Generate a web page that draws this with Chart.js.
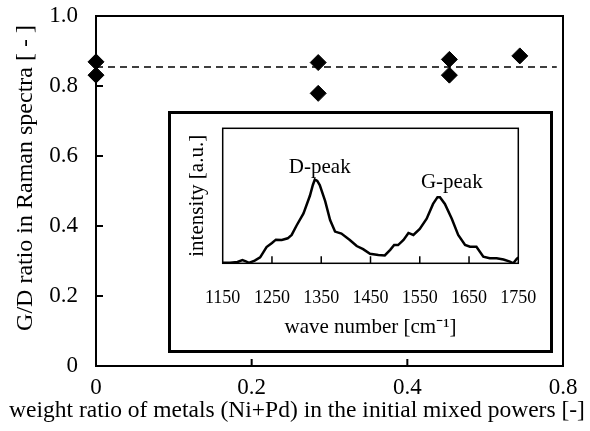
<!DOCTYPE html>
<html>
<head>
<meta charset="utf-8">
<script src="https://cdn.jsdelivr.net/npm/chart.js@4.4.0/dist/chart.umd.min.js"></script>
<style>
  html, body { margin: 0; padding: 0; background: #fff; }
  #wrap { position: relative; width: 590px; height: 431px; }
  #inset { position: absolute; left: 168px; top: 111px; width: 379px; height: 236px;
           border: 3px solid #000; background: #fff; }
  canvas { display: block; }
</style>
</head>
<body>
<div id="wrap">
  <canvas id="mainChart" width="590" height="431"></canvas>
  <div id="inset"><canvas id="insetChart" width="379" height="236"></canvas></div>
</div>
<script>
// main plot: G/D ratio vs metal weight ratio
const metalRatio = [0, 0, 0.2855, 0.2855, 0.454, 0.454, 0.5445];
const gdRatio = [0.869, 0.831, 0.867, 0.779, 0.876, 0.831, 0.886];
const meanX = [0, 0.592];
const meanY = [0.854, 0.854];
const xTickLabels = ['0', '0.2', '0.4', '0.8'];
const yTickLabels = ['0', '0.2', '0.4', '0.6', '0.8', '1.0'];
const xTitle = 'weight ratio of metals (Ni+Pd) in the initial mixed powers [-]';
const yTitle = 'G/D ratio in Raman spectra [ - ]';

// inset: Raman spectrum
const waveNumber = [1150, 1165, 1180, 1190, 1197, 1203, 1215, 1226, 1239, 1250, 1258, 1270, 1282, 1290,
  1300, 1314, 1327, 1333, 1337, 1342, 1347, 1358, 1368, 1378, 1391, 1408, 1422, 1435, 1449, 1466,
  1479, 1490, 1498, 1506, 1517, 1527, 1537, 1550, 1564, 1577, 1586, 1591, 1601, 1615, 1628, 1642,
  1652, 1665, 1679, 1692, 1706, 1720, 1733, 1740, 1746, 1750];
const intensity = [0.5, 0.5, 1, 2.4, 1.5, 0.3, 2, 4.4, 12, 15, 17.5, 17.3, 18.5, 21,
  28, 37, 50, 58, 62, 61, 58, 46, 32, 23.5, 22, 17.3, 12.8, 10.5, 7, 6.2,
  5.8, 10, 13.6, 13.5, 17.3, 22.5, 21, 25.5, 33, 44, 49, 49, 44, 33, 21, 13.6,
  12.3, 12.3, 4.9, 3.7, 3.7, 2.8, 1.2, 0, 3, 4.4];
const waveTicks = ['1150', '1250', '1350', '1450', '1550', '1650', '1750'];
const peakNames = ['D-peak', 'G-peak'];
const peakNameX = [1347, 1615];
const peakNameY = [71, 60];

const serif = '"Liberation Serif", "Times New Roman", serif';

// box around the plot area plus inward tick marks
function frameWithTicks(lineWidth, tickLen) {
  return {
    id: 'frameWithTicks',
    beforeDatasetsDraw(chart) {
      const { ctx, chartArea: a, scales } = chart;
      ctx.save();
      ctx.strokeStyle = '#000';
      ctx.lineWidth = lineWidth;
      ctx.strokeRect(a.left, a.top, a.right - a.left, a.bottom - a.top);
      ctx.beginPath();
      const xs = scales.x.ticks, ys = scales.y.ticks;
      xs.forEach((t, i) => {
        if (i === 0 || i === xs.length - 1) return;
        const px = scales.x.getPixelForValue(t.value);
        ctx.moveTo(px, a.bottom);
        ctx.lineTo(px, a.bottom - tickLen);
      });
      if (scales.y.options.ticks.display) {
        ys.forEach((t, i) => {
          if (i === 0 || i === ys.length - 1) return;
          const py = scales.y.getPixelForValue(t.value);
          ctx.moveTo(a.left, py);
          ctx.lineTo(a.left + tickLen, py);
        });
      }
      ctx.stroke();
      ctx.restore();
    }
  };
}

// axis titles of the main plot (drawn here so they are not squeezed to the axis length)
const mainTitles = {
  id: 'mainTitles',
  afterDraw(chart) {
    const { ctx } = chart;
    ctx.save();
    ctx.fillStyle = '#000';
    ctx.textAlign = 'center';
    ctx.textBaseline = 'middle';
    ctx.font = '23.5px ' + serif;
    ctx.fillText(xTitle, 297, 411);
    ctx.translate(26, 178);
    ctx.rotate(-Math.PI / 2);
    ctx.font = '24px ' + serif;
    ctx.fillText(yTitle, 0, 0);
    ctx.restore();
  }
};

new Chart(document.getElementById('mainChart'), {
  type: 'scatter',
  data: {
    datasets: [
      {
        data: meanX.map((x, i) => ({ x: x, y: meanY[i] })),
        showLine: true,
        borderColor: '#000',
        borderWidth: 1.5,
        borderDash: [7, 5],
        pointRadius: 0,
        clip: false
      },
      {
        data: metalRatio.map((x, i) => ({ x: x, y: gdRatio[i] })),
        pointStyle: 'rectRot',
        pointRadius: 8,
        backgroundColor: '#000',
        borderColor: '#000',
        borderWidth: 1,
        clip: false
      }
    ]
  },
  options: {
    responsive: false,
    animation: false,
    layout: { padding: { left: 0, right: 27, top: 16, bottom: 0 } },
    plugins: { legend: { display: false }, tooltip: { enabled: false } },
    scales: {
      x: {
        type: 'linear', min: 0, max: 0.6,
        grid: { display: false }, border: { display: false },
        ticks: { stepSize: 0.2, color: '#000', padding: 0, maxRotation: 0,
          font: { family: serif, size: 23 },
          callback: (v, i) => xTickLabels[i] },
        afterFit: s => { s.height = 65; s.paddingLeft = 0; s.paddingRight = 0; }
      },
      y: {
        type: 'linear', min: 0, max: 1,
        grid: { display: false }, border: { display: false },
        ticks: { stepSize: 0.2, color: '#000', padding: 10,
          font: { family: serif, size: 23 },
          callback: (v, i) => yTickLabels[i] },
        afterFit: s => { s.width = 96; s.paddingTop = 0; s.paddingBottom = 0; }
      }
    }
  },
  plugins: [frameWithTicks(2, 7), mainTitles]
});

const peakText = {
  id: 'peakText',
  afterDatasetsDraw(chart) {
    const { ctx, scales } = chart;
    ctx.save();
    ctx.fillStyle = '#000';
    ctx.font = '21px ' + serif;
    ctx.textAlign = 'center';
    ctx.textBaseline = 'middle';
    peakNames.forEach((name, i) => {
      ctx.fillText(name, scales.x.getPixelForValue(peakNameX[i]), scales.y.getPixelForValue(peakNameY[i]));
    });
    ctx.restore();
  }
};

new Chart(document.getElementById('insetChart'), {
  type: 'line',
  data: {
    datasets: [{
      data: waveNumber.map((x, i) => ({ x: x, y: intensity[i] })),
      borderColor: '#000',
      borderWidth: 2.5,
      pointRadius: 0,
      tension: 0,
      fill: false
    }]
  },
  options: {
    responsive: false,
    animation: false,
    layout: { padding: { left: 0, right: 31.7, top: 14.3, bottom: 0 } },
    plugins: { legend: { display: false }, tooltip: { enabled: false } },
    scales: {
      x: {
        type: 'linear', min: 1150, max: 1750,
        grid: { display: false }, border: { display: false },
        ticks: { stepSize: 100, color: '#000', padding: 16, maxRotation: 0,
          font: { family: serif, size: 18 },
          callback: (v, i) => waveTicks[i] },
        title: { display: true, text: 'wave number [cm\u207B\u00B9]', color: '#000',
          font: { family: serif, size: 21 }, padding: { top: 0, bottom: 10 } },
        afterFit: s => { s.height = 86.7; s.paddingLeft = 0; s.paddingRight = 0; }
      },
      y: {
        type: 'linear', min: 0, max: 100,
        grid: { display: false }, border: { display: false },
        ticks: { display: false },
        title: { display: true, text: 'intensity [a.u.]', color: '#000',
          font: { family: serif, size: 21 }, padding: { top: 14, bottom: 0 } },
        afterFit: s => { s.width = 51.7; s.paddingTop = 0; s.paddingBottom = 0; }
      }
    }
  },
  plugins: [frameWithTicks(1.5, 7), peakText]
});
</script>
</body>
</html>
